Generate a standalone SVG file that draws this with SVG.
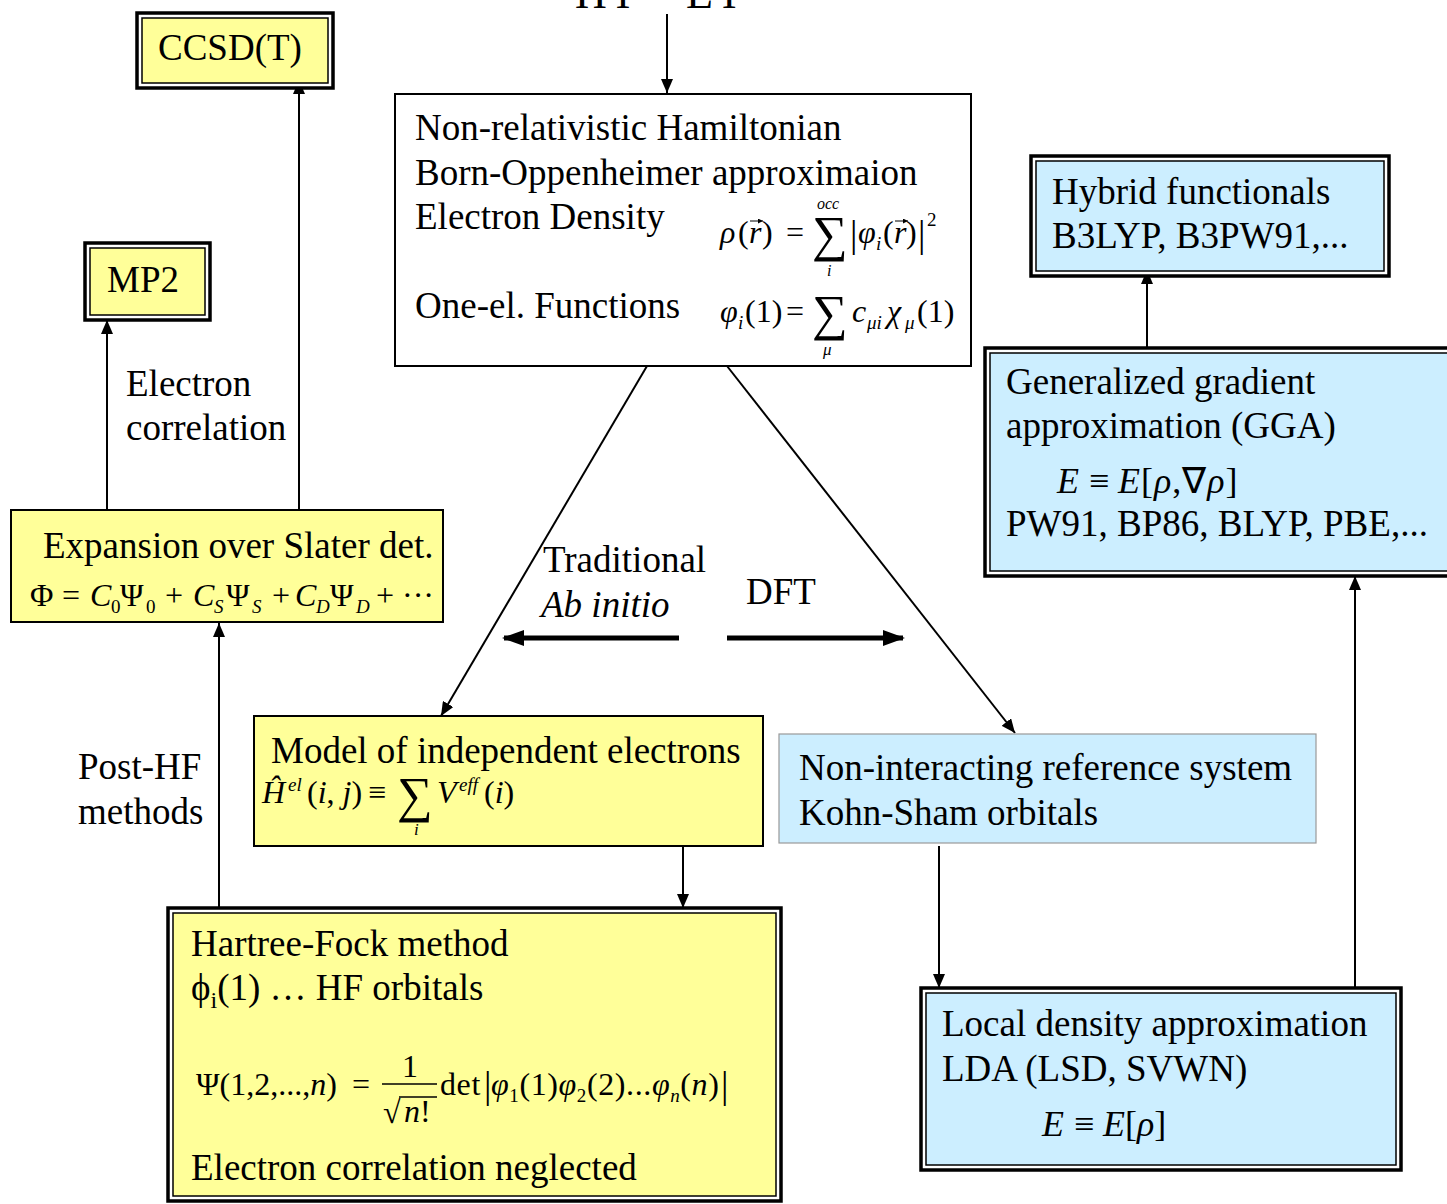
<svg xmlns="http://www.w3.org/2000/svg" width="1447" height="1204" viewBox="0 0 1447 1204">
<defs>
<style>
text{font-family:"Liberation Serif","Times New Roman",serif;fill:#000}
.t{font-size:37px}
.f{font-size:32px}
.it{font-style:italic}
.s{font-size:19px}
.yel{fill:#ffff99}
.blu{fill:#cceeff}
.o{fill:#fff;stroke:#000;stroke-width:3.5}
.in{stroke:#000;stroke-width:1.5}
.c{stroke:#000;stroke-width:2;fill:none}
</style>
<marker id="ah" markerUnits="userSpaceOnUse" markerWidth="14" markerHeight="12" refX="14" refY="6" orient="auto"><path d="M0,0 L14,6 L0,12 z" fill="#000"/></marker>
<marker id="ahb" markerUnits="userSpaceOnUse" markerWidth="22" markerHeight="16" refX="20" refY="8" orient="auto"><path d="M0,0 L22,8 L0,16 z" fill="#000"/></marker>
<marker id="ahv" markerUnits="userSpaceOnUse" markerWidth="5" markerHeight="5" refX="5" refY="2.5" orient="auto"><path d="M0,0 L5,2.5 L0,5 z" fill="#000"/></marker>
</defs>
<rect width="1447" height="1204" fill="#fff"/>

<g id="title">
<text x="575" y="8" style="font-size:44px">HΨ = EΨ</text>
</g>

<g id="connectors">
<line class="c" x1="667" y1="14" x2="667" y2="93" marker-end="url(#ah)"/>
<line class="c" x1="647" y1="366" x2="441" y2="716" marker-end="url(#ah)"/>
<line class="c" x1="727" y1="366" x2="1015" y2="733" marker-end="url(#ah)"/>
<line class="c" x1="107" y1="510" x2="107" y2="320" marker-end="url(#ah)"/>
<line class="c" x1="299" y1="510" x2="299" y2="80" marker-end="url(#ah)"/>
<line class="c" x1="219" y1="908" x2="219" y2="623" marker-end="url(#ah)"/>
<line class="c" x1="683" y1="846" x2="683" y2="908" marker-end="url(#ah)"/>
<line class="c" x1="939" y1="846" x2="939" y2="988" marker-end="url(#ah)"/>
<line class="c" x1="1355" y1="988" x2="1355" y2="576" marker-end="url(#ah)"/>
<line class="c" x1="1147" y1="348" x2="1147" y2="270" marker-end="url(#ah)"/>
<line x1="679" y1="638" x2="504" y2="638" stroke="#000" stroke-width="5" marker-end="url(#ahb)"/>
<line x1="727" y1="638" x2="903" y2="638" stroke="#000" stroke-width="5" marker-end="url(#ahb)"/>
</g>

<g id="labels">
<text class="t" x="126" y="396">Electron</text>
<text class="t" x="126" y="440">correlation</text>
<text class="t" x="78" y="779">Post-HF</text>
<text class="t" x="78" y="824">methods</text>
<text class="t" x="543" y="572">Traditional</text>
<text class="t it" x="541" y="617">Ab initio</text>
<text class="t" x="746" y="604">DFT</text>
</g>

<g id="ccsdt">
<rect class="o" x="137" y="13" width="196" height="75"/>
<rect class="yel in" x="142" y="18" width="186" height="65"/>
<text class="t" x="158" y="60">CCSD(T)</text>
</g>

<g id="mp2">
<rect class="o" x="85" y="243" width="125" height="77"/>
<rect class="yel in" x="90" y="248" width="115" height="67"/>
<text class="t" x="107" y="292">MP2</text>
</g>

<g id="main">
<rect x="395" y="94" width="576" height="272" fill="#fff" stroke="#000" stroke-width="2"/>
<text class="t" x="415" y="140">Non-relativistic Hamiltonian</text>
<text class="t" x="415" y="185">Born-Oppenheimer approximaion</text>
<text class="t" x="415" y="229">Electron Density</text>
<text class="t" x="415" y="318">One-el. Functions</text>
<text class="f" y="243"><tspan class="it" x="720">ρ</tspan><tspan x="738">(</tspan><tspan class="it" x="749">r</tspan><tspan x="762">)</tspan><tspan x="786">=</tspan></text>
<line x1="750" y1="221" x2="763" y2="221" stroke="#000" stroke-width="1" marker-end="url(#ahv)"/>
<text x="812" y="251" style="font-size:50px">∑</text>
<text class="it" x="817" y="209" style="font-size:16px">occ</text>
<text class="it" x="827" y="276" style="font-size:16px">i</text>
<text y="247" style="font-size:37px"><tspan x="850">|</tspan><tspan x="918">|</tspan></text>
<text class="f" y="243"><tspan class="it" x="858">φ</tspan><tspan class="it s" x="876" dy="7">i</tspan><tspan x="883" dy="-7">(</tspan><tspan class="it" x="894">r</tspan><tspan x="906">)</tspan><tspan class="s" x="927" dy="-17">2</tspan></text>
<line x1="895" y1="221" x2="908" y2="221" stroke="#000" stroke-width="1" marker-end="url(#ahv)"/>
<text class="f" y="322"><tspan class="it" x="720">φ</tspan><tspan class="it s" x="738" dy="7">i</tspan><tspan x="745" dy="-7">(1)</tspan><tspan x="786">=</tspan></text>
<text x="812" y="330" style="font-size:50px">∑</text>
<text class="it" x="823" y="355" style="font-size:17px">μ</text>
<text class="f" y="322"><tspan class="it" x="852">c</tspan><tspan class="it s" x="867" dy="7">μi</tspan><tspan class="it" x="887" dy="-7">χ</tspan><tspan class="it s" x="905" dy="7">μ</tspan><tspan x="917" dy="-7">(1)</tspan></text>
</g>

<g id="expansion">
<rect class="yel" x="11" y="510" width="432" height="112" stroke="#000" stroke-width="2"/>
<text class="t" x="43" y="558">Expansion over Slater det.</text>
<text class="f" y="606"><tspan x="30">Φ</tspan><tspan x="62">=</tspan><tspan class="it" x="90">C</tspan><tspan class="s" x="111" dy="7">0</tspan><tspan x="120" dy="-7">Ψ</tspan><tspan class="s" x="146" dy="7">0</tspan><tspan x="165" dy="-7">+</tspan><tspan class="it" x="193">C</tspan><tspan class="it s" x="214" dy="7">S</tspan><tspan x="226" dy="-7">Ψ</tspan><tspan class="it s" x="252" dy="7">S</tspan><tspan x="272" dy="-7">+</tspan><tspan class="it" x="295">C</tspan><tspan class="it s" x="316" dy="7">D</tspan><tspan x="330" dy="-7">Ψ</tspan><tspan class="it s" x="356" dy="7">D</tspan><tspan x="376" dy="-7">+</tspan><tspan x="402">···</tspan></text>
</g>

<g id="model">
<rect class="yel" x="254" y="716" width="509" height="130" stroke="#000" stroke-width="2"/>
<text class="t" x="271" y="763">Model of independent electrons</text>
<text class="f" y="803"><tspan class="it" x="262">Ĥ</tspan><tspan class="it s" x="288" dy="-12">el</tspan><tspan x="307" dy="12">(</tspan><tspan class="it">i</tspan><tspan>, </tspan><tspan class="it">j</tspan><tspan>)</tspan><tspan x="368">≡</tspan></text>
<text x="397" y="812" style="font-size:50px">∑</text>
<text class="it" x="414" y="835" style="font-size:17px">i</text>
<text class="f" y="803"><tspan class="it" x="437">V</tspan><tspan class="it s" x="459" dy="-12">eff</tspan><tspan x="484" dy="12">(</tspan><tspan class="it">i</tspan><tspan>)</tspan></text>
</g>

<g id="hf">
<rect class="o" x="168" y="908" width="613" height="293"/>
<rect class="yel in" x="173" y="913" width="603" height="283"/>
<text class="t" x="191" y="956">Hartree-Fock method</text>
<text class="t" x="191" y="1000">ϕ<tspan style="font-size:24px" dy="8">i</tspan><tspan dy="-8">(1) … HF orbitals</tspan></text>
<text class="f" y="1095"><tspan x="196">Ψ(1,2,...,</tspan><tspan class="it">n</tspan><tspan>)</tspan><tspan x="352">=</tspan></text>
<text class="f" x="402" y="1077">1</text>
<line x1="382" y1="1084" x2="437" y2="1084" stroke="#000" stroke-width="1.5"/>
<text class="f" x="383" y="1123">√</text>
<line x1="399" y1="1097" x2="437" y2="1097" stroke="#000" stroke-width="1.5"/>
<text class="f" y="1122"><tspan class="it" x="404">n</tspan><tspan>!</tspan></text>
<text y="1098" style="font-size:37px"><tspan x="484">|</tspan><tspan x="721">|</tspan></text>
<text class="f" y="1095" style="letter-spacing:0.6px"><tspan x="440">det</tspan><tspan class="it" x="491">φ</tspan><tspan class="s" dy="7">1</tspan><tspan dy="-7">(1)</tspan><tspan class="it">φ</tspan><tspan class="s" dy="7">2</tspan><tspan dy="-7">(2)...</tspan><tspan class="it">φ</tspan><tspan class="it s" dy="7">n</tspan><tspan dy="-7">(</tspan><tspan class="it">n</tspan><tspan>)</tspan></text>
<text class="t" x="191" y="1180">Electron correlation neglected</text>
</g>

<g id="nonint">
<rect class="blu" x="779" y="734" width="537" height="109" stroke="#999" stroke-width="1.2"/>
<text class="t" x="799" y="780">Non-interacting reference system</text>
<text class="t" x="799" y="825">Kohn-Sham orbitals</text>
</g>

<g id="lda">
<rect class="o" x="921" y="988" width="480" height="182"/>
<rect class="blu in" x="926" y="993" width="470" height="172"/>
<text class="t" x="942" y="1036">Local density approximation</text>
<text class="t" x="942" y="1081">LDA (LSD, SVWN)</text>
<text style="font-size:36px" y="1136"><tspan class="it" x="1042">E</tspan><tspan x="1074">≡</tspan><tspan class="it" x="1103">E</tspan><tspan>[</tspan><tspan class="it">ρ</tspan><tspan>]</tspan></text>
</g>

<g id="gga">
<rect class="o" x="985" y="348" width="470" height="228"/>
<rect class="blu in" x="990" y="353" width="460" height="218"/>
<text class="t" x="1006" y="394">Generalized gradient</text>
<text class="t" x="1006" y="438">approximation (GGA)</text>
<text style="font-size:36px;letter-spacing:1px" y="493"><tspan class="it" x="1057">E</tspan><tspan x="1089">≡</tspan><tspan class="it" x="1118">E</tspan><tspan>[</tspan><tspan class="it">ρ</tspan><tspan>,∇</tspan><tspan class="it">ρ</tspan><tspan>]</tspan></text>
<text class="t" x="1006" y="536">PW91, BP86, BLYP, PBE,...</text>
</g>

<g id="hybrid">
<rect class="o" x="1031" y="156" width="358" height="120"/>
<rect class="blu in" x="1036" y="161" width="348" height="110"/>
<text class="t" x="1052" y="204">Hybrid functionals</text>
<text class="t" x="1052" y="248">B3LYP, B3PW91,...</text>
</g>
</svg>
